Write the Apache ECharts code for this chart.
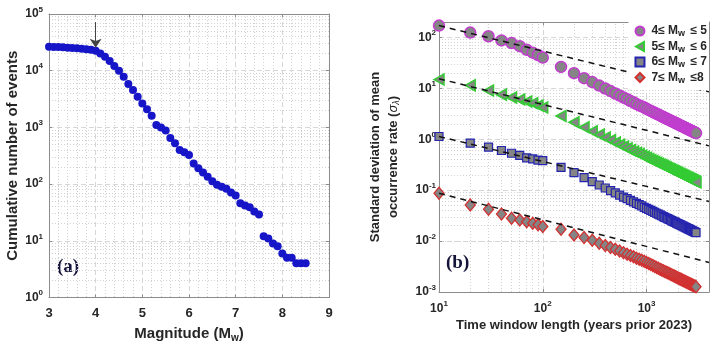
<!DOCTYPE html>
<html>
<head>
<meta charset="utf-8">
<script src="https://cdn.jsdelivr.net/npm/echarts@6/dist/echarts.min.js"></script>
<style>
  html, body { margin: 0; padding: 0; background: #fff; }
  #chart { width: 717px; height: 349px; }
</style>
</head>
<body>
<div id="chart"></div>
<script>
// ---- panel (a): cumulative number of events vs magnitude
const magnitudes = [3.0, 3.1, 3.2, 3.3, 3.4, 3.5, 3.6, 3.7, 3.8, 3.9,
  4.0, 4.1, 4.2, 4.3, 4.4, 4.5, 4.6, 4.7, 4.8, 4.9,
  5.0, 5.1, 5.2, 5.3, 5.4, 5.5, 5.6, 5.7, 5.8, 5.9,
  6.0, 6.1, 6.2, 6.3, 6.4, 6.5, 6.6, 6.7, 6.8, 6.9,
  7.0, 7.1, 7.2, 7.3, 7.4, 7.5, 7.6, 7.7, 7.8, 7.9,
  8.0, 8.1, 8.2, 8.3, 8.4, 8.5];
const cumulativeEvents = [26500, 26300, 26100, 25800, 25500, 25200, 24900, 24500, 24000, 23400,
  22500, 20200, 17700, 14800, 12100, 10000, 7800, 5800, 4570, 3480,
  2650, 2100, 1600, 1100, 1000, 880, 650, 525, 400, 365,
  325, 232, 190, 160, 135, 112, 97, 90, 83, 71,
  63, 46, 42, 39, 33, 29, 12, 11, 9, 8,
  6, 5, 5, 4, 4, 4];
const completenessMag = 4.0;

// ---- panel (b): std of mean occurrence rate vs time window
const windowYears = [10, 20, 30, 40, 50, 60, 70, 80, 90, 100,
  150, 200, 250, 300, 350, 400, 450, 500, 550, 600, 650, 700, 750, 800, 850, 900, 950, 1000,
  1050, 1100, 1150, 1200, 1250, 1300, 1350, 1400, 1450, 1500, 1550, 1600, 1650, 1700, 1750, 1800, 1850, 1900, 1950, 2000,
  2050, 2100, 2150, 2200, 2250, 2300, 2350, 2400, 2450, 2500, 2550, 2600, 2650, 2700, 2750, 2800, 2850, 2900, 2950, 3000];
const sigmaM4 = [170, 124, 105, 87, 77, 67, 57, 50, 45, 40,
  26.3, 19.8, 15.8, 13.2, 11.3, 9.9, 8.8, 7.9, 7.2, 6.6, 6.1, 5.6, 5.3, 4.9, 4.6, 4.4, 4.2, 3.95,
  3.76, 3.59, 3.43, 3.29, 3.16, 3.04, 2.93, 2.82, 2.72, 2.63, 2.55, 2.47, 2.39, 2.32, 2.26, 2.19, 2.14, 2.08, 2.03, 1.98,
  1.93, 1.88, 1.84, 1.80, 1.76, 1.72, 1.68, 1.65, 1.61, 1.58, 1.55, 1.52, 1.49, 1.46, 1.44, 1.41, 1.39, 1.36, 1.34, 1.32];
const sigmaM5 = [14.8, 11.4, 9.0, 7.5, 6.6, 6.0, 5.5, 5.1, 4.6, 4.2,
  2.85, 2.15, 1.72, 1.43, 1.23, 1.08, 0.96, 0.86, 0.78, 0.72, 0.66, 0.61, 0.57, 0.54, 0.51, 0.48, 0.45, 0.43,
  0.41, 0.39, 0.374, 0.358, 0.344, 0.331, 0.319, 0.307, 0.297, 0.287, 0.277, 0.269, 0.261, 0.253, 0.246, 0.239, 0.232, 0.226, 0.221, 0.215,
  0.210, 0.205, 0.200, 0.195, 0.191, 0.187, 0.183, 0.179, 0.176, 0.172, 0.169, 0.165, 0.162, 0.159, 0.156, 0.154, 0.151, 0.148, 0.146, 0.143];
const sigmaM6 = [1.13, 0.84, 0.70, 0.60, 0.53, 0.48, 0.43, 0.41, 0.39, 0.38,
  0.28, 0.22, 0.176, 0.147, 0.126, 0.110, 0.098, 0.088, 0.080, 0.073, 0.068, 0.063, 0.059, 0.055, 0.052, 0.049, 0.046, 0.044,
  0.042, 0.040, 0.0383, 0.0367, 0.0352, 0.0338, 0.0326, 0.0314, 0.0303, 0.0293, 0.0284, 0.0275, 0.0267, 0.0259, 0.0251, 0.0244, 0.0238, 0.0232, 0.0226, 0.0220,
  0.0215, 0.0210, 0.0205, 0.0200, 0.0196, 0.0191, 0.0187, 0.0183, 0.0180, 0.0176, 0.0173, 0.0169, 0.0166, 0.0163, 0.0160, 0.0157, 0.0154, 0.0152, 0.0149, 0.0147];
const sigmaM7 = [0.087, 0.051, 0.042, 0.034, 0.028, 0.026, 0.024, 0.0224, 0.021, 0.0193,
  0.0170, 0.0132, 0.0117, 0.0104, 0.0091, 0.0082, 0.0075, 0.0069, 0.0064, 0.0059, 0.0055, 0.0052, 0.0049, 0.0046, 0.0044, 0.0042, 0.0040, 0.0038,
  0.00362, 0.00345, 0.00330, 0.00317, 0.00304, 0.00292, 0.00281, 0.00271, 0.00262, 0.00253, 0.00245, 0.00238, 0.00230, 0.00224, 0.00217, 0.00211, 0.00205, 0.00200, 0.00195, 0.00190,
  0.00185, 0.00181, 0.00177, 0.00173, 0.00169, 0.00165, 0.00162, 0.00158, 0.00155, 0.00152, 0.00149, 0.00146, 0.00143, 0.00141, 0.00138, 0.00136, 0.00133, 0.00131, 0.00129, 0.00127];

// slope -1/2 reference lines (end points)
const refYears = [10, 4000];
const refM4 = [170, 8.5];
const refM5 = [15.4, 0.74];
const refM6 = [1.13, 0.06];
const refM7 = [0.087, 0.0038];

const seriesNames = ['4≤ Mw ≤ 5', '5≤ Mw ≤ 6', '6≤ Mw ≤ 7', '7≤ Mw ≤8'];
const legendRich = {
  '4≤ Mw ≤ 5': '{t|4≤ M}{sub|w}{t| ≤ 5}',
  '5≤ Mw ≤ 6': '{t|5≤ M}{sub|w}{t| ≤ 6}',
  '6≤ Mw ≤ 7': '{t|6≤ M}{sub|w}{t| ≤ 7}',
  '7≤ Mw ≤8': '{t|7≤ M}{sub|w}{t| ≤8}'
};

const FONT = "'Liberation Sans', Arial, sans-serif";
const TXT = '#262626';
const BOX = '#8c8c8c';

const zip = (xs, ys) => xs.map((x, i) => [x, ys[i]]);

// MATLAB-like log tick labels: 10^n
function powLabel(v) {
  const e = Math.log10(v);
  const r = Math.round(e);
  if (Math.abs(e - r) > 1e-6) return '';
  return '{b|10}{s|' + r + '}';
}
function powRich(size) {
  return {
    b: { fontFamily: FONT, fontWeight: 'bold', fontSize: size, color: TXT },
    s: { fontFamily: FONT, fontWeight: 'bold', fontSize: size - 4, color: TXT, padding: [0, 0, 9, 0] }
  };
}

// minor log gridlines (2..9 x 10^n)
function logMinors(lo, hi) {
  const out = [];
  for (let d = lo; d <= hi; d++) {
    for (let m = 2; m <= 9; m++) out.push(m * Math.pow(10, d));
  }
  return out;
}

const minorStyle = { color: '#d2d2d2', width: 1, type: [1, 2] };
const majorStyle = { color: '#d6d6d6', width: 1, type: [5, 3] };

function gridSeries(xi, yi, xs, ys) {
  return {
    type: 'line', xAxisIndex: xi, yAxisIndex: yi, data: [], z: 0, silent: true,
    markLine: {
      z: 0, silent: true, symbol: 'none', animation: false, label: { show: false },
      lineStyle: minorStyle, emphasis: { disabled: true },
      data: xs.map(v => ({ xAxis: v })).concat(ys.map(v => ({ yAxis: v })))
    }
  };
}

function boxAxis(type, position, gridIndex, min, max) {
  return {
    type, position, gridIndex, min, max,
    axisLine: { show: true, onZero: false, lineStyle: { color: BOX, width: 1 } },
    axisTick: { show: true, inside: true, length: 3, lineStyle: { color: BOX } },
    axisLabel: { show: false },
    splitLine: { show: false }
  };
}

const aGridMinorY = logMinors(0, 4);
const bGridMinorX = logMinors(1, 2).concat([2000, 3000, 4000]);
const bGridMinorY = logMinors(-3, 1).concat([200]);

const chart = echarts.init(document.getElementById('chart'));

const option = {
  animation: false,
  backgroundColor: '#fff',
  grid: [
    { left: 49, top: 14, width: 280, height: 283.5 },
    { left: 439, top: 22, width: 270, height: 270 }
  ],
  xAxis: [
    {
      type: 'value', gridIndex: 0, min: 3, max: 9, interval: 1,
      name: '{t|Magnitude (M}{sub|w}{t|)}', nameLocation: 'middle', nameGap: 27,
      nameTextStyle: {
        rich: {
          t: { fontFamily: FONT, fontWeight: 'bold', fontSize: 15, color: TXT },
          sub: { fontFamily: FONT, fontWeight: 'bold', fontSize: 10, color: TXT, padding: [9, 0, 0, 0] }
        }
      },
      axisLine: { show: true, onZero: false, lineStyle: { color: BOX } },
      axisTick: { inside: true, length: 3, lineStyle: { color: BOX } },
      axisLabel: { margin: 9, fontFamily: FONT, fontWeight: 'bold', fontSize: 13, color: TXT },
      splitLine: { show: true, lineStyle: majorStyle },
      minorTick: { show: false, splitNumber: 5 },
      minorSplitLine: { show: true, lineStyle: minorStyle }
    },
    boxAxis('value', 'top', 0, 3, 9),
    {
      type: 'log', gridIndex: 1, min: 10, max: 4000, logBase: 10,
      name: 'Time window length (years prior 2023)', nameLocation: 'middle', nameGap: 24,
      nameTextStyle: { fontFamily: FONT, fontWeight: 'bold', fontSize: 13, color: TXT },
      axisLine: { show: true, onZero: false, lineStyle: { color: BOX } },
      axisTick: { inside: true, length: 3, lineStyle: { color: BOX } },
      axisLabel: { margin: 8, formatter: powLabel, rich: powRich(12) },
      splitLine: { show: true, lineStyle: majorStyle }
    },
    boxAxis('log', 'top', 1, 10, 4000)
  ],
  yAxis: [
    {
      type: 'log', gridIndex: 0, min: 1, max: 100000, logBase: 10,
      name: 'Cumulative number of events', nameLocation: 'middle', nameGap: 29,
      nameTextStyle: { fontFamily: FONT, fontWeight: 'bold', fontSize: 15, color: TXT },
      axisLine: { show: true, onZero: false, lineStyle: { color: BOX } },
      axisTick: { inside: true, length: 3, lineStyle: { color: BOX } },
      axisLabel: { margin: 6, formatter: powLabel, rich: powRich(12) },
      splitLine: { show: true, lineStyle: majorStyle }
    },
    boxAxis('log', 'right', 0, 1, 100000),
    {
      type: 'log', gridIndex: 1, min: 0.001, max: 200, logBase: 10,
      name: '{t|Standard deviation of mean}\n{t|occurrence rate (}{g|σ}{sub|λ}{t|)}',
      nameLocation: 'middle', nameGap: 37,
      nameTextStyle: {
        rich: {
          t: { fontFamily: FONT, fontWeight: 'bold', fontSize: 13, color: TXT, lineHeight: 18 },
          g: { fontFamily: FONT, fontStyle: 'italic', fontSize: 13, color: TXT, lineHeight: 18 },
          sub: { fontFamily: FONT, fontStyle: 'italic', fontSize: 9, color: TXT, padding: [7, 0, 0, 0] }
        }
      },
      axisLine: { show: true, onZero: false, lineStyle: { color: BOX } },
      axisTick: { inside: true, length: 3, lineStyle: { color: BOX } },
      axisLabel: { margin: 3, formatter: powLabel, rich: powRich(12) },
      splitLine: { show: true, lineStyle: majorStyle }
    },
    boxAxis('log', 'right', 1, 0.001, 200)
  ],
  legend: {
    orient: 'vertical', right: 8, top: 22, z: 6,
    backgroundColor: '#fff', padding: [3, 2, 5, 6],
    itemWidth: 9, itemHeight: 9, itemGap: 2,
    selectedMode: false,
    data: seriesNames,
    formatter: name => legendRich[name],
    textStyle: {
      rich: {
        t: { fontFamily: FONT, fontWeight: 'bold', fontSize: 12, color: TXT, lineHeight: 14, padding: [0, 0, 0, 2] },
        sub: { fontFamily: FONT, fontWeight: 'bold', fontSize: 9, color: TXT, padding: [6, 0, 0, 0] }
      }
    }
  },
  graphic: [
    { type: 'text', left: 57, top: 258, style: { text: '(a)', font: "bold 19px 'Liberation Serif', 'DejaVu Serif', serif", fill: '#14143a' } },
    { type: 'text', left: 446, top: 254, style: { text: '(b)', font: "bold 19px 'Liberation Serif', 'DejaVu Serif', serif", fill: '#14143a' } }
  ],
  series: [
    gridSeries(0, 0, [], aGridMinorY),
    gridSeries(2, 2, bGridMinorX, bGridMinorY),
    {
      name: 'events', type: 'scatter', xAxisIndex: 0, yAxisIndex: 0, z: 3,
      data: zip(magnitudes, cumulativeEvents),
      symbol: 'circle', symbolSize: 8,
      itemStyle: { color: '#1616c8', opacity: 1 },
      markLine: {
        z: 4, silent: true, animation: false, symbol: ['none', 'arrow'], symbolSize: 9,
        label: { show: false },
        lineStyle: { color: '#444', width: 1, type: 'solid' },
        data: [[{ coord: [completenessMag, 72000] }, { coord: [completenessMag, 25500] }]]
      }
    },
    {
      name: seriesNames[0], type: 'scatter', xAxisIndex: 2, yAxisIndex: 2, z: 3,
      data: zip(windowYears, sigmaM4), symbol: 'circle', symbolSize: 11,
      itemStyle: { color: '#858585', borderColor: '#c23cd0', borderWidth: 1.5, opacity: 1 }
    },
    {
      name: seriesNames[1], type: 'scatter', xAxisIndex: 2, yAxisIndex: 2, z: 3,
      data: zip(windowYears, sigmaM5), symbol: 'path://M0,5L9,0L9,10Z', symbolSize: [10, 11],
      itemStyle: { color: '#858585', borderColor: '#33cc33', borderWidth: 1.5, opacity: 1 }
    },
    {
      name: seriesNames[2], type: 'scatter', xAxisIndex: 2, yAxisIndex: 2, z: 3,
      data: zip(windowYears, sigmaM6), symbol: 'rect', symbolSize: 8,
      itemStyle: { color: '#858585', borderColor: '#2424b0', borderWidth: 1.2, opacity: 1 }
    },
    {
      name: seriesNames[3], type: 'scatter', xAxisIndex: 2, yAxisIndex: 2, z: 3,
      data: zip(windowYears, sigmaM7), symbol: 'diamond', symbolSize: [10, 12],
      itemStyle: { color: '#858585', borderColor: '#d43030', borderWidth: 1.3, opacity: 1 }
    }
  ].concat([refM4, refM5, refM6, refM7].map(ref => ({
    type: 'line', xAxisIndex: 2, yAxisIndex: 2, z: 4, silent: true,
    data: zip(refYears, ref), symbol: 'none',
    lineStyle: { color: '#111', width: 1.5, type: [6, 5] }
  })))
};

chart.setOption(option);
</script>
</body>
</html>
